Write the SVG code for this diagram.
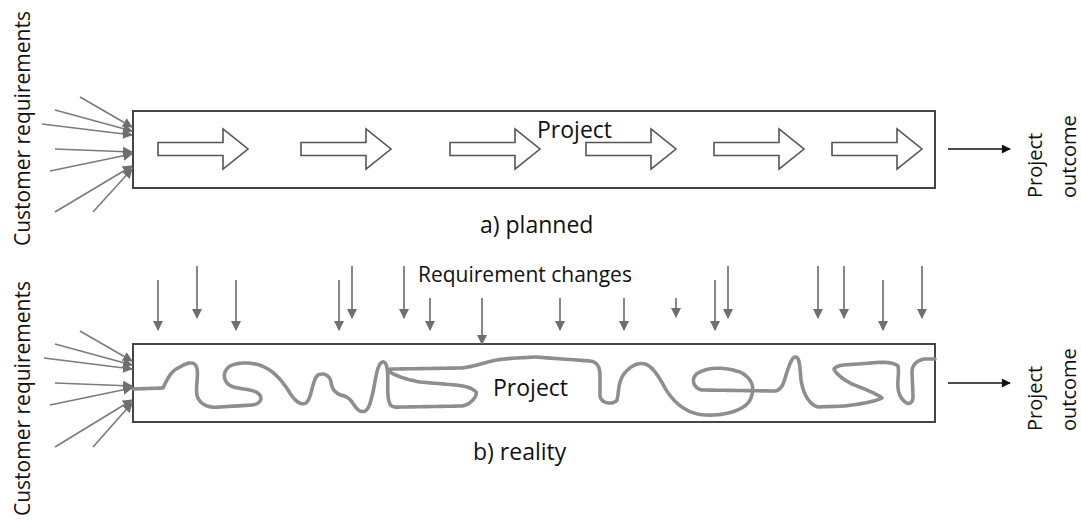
<svg xmlns="http://www.w3.org/2000/svg" width="1081" height="520" viewBox="0 0 1081 520">
  <style>
    .box { fill: #fff; stroke: #454545; stroke-width: 2; }
    .step { fill: #fff; stroke: #555; stroke-width: 1.6; stroke-linejoin: miter; }
    .req { stroke: #7b7b7b; stroke-width: 1.6; fill: none; marker-end: url(#gray-head); }
    .chg { stroke: #7b7b7b; stroke-width: 1.8; fill: none; marker-end: url(#gray-head); }
    .out { stroke: #111; stroke-width: 1.6; fill: none; marker-end: url(#black-head); }
    .wander { fill: none; stroke: #8e8e8e; stroke-width: 3.6; stroke-linecap: round; stroke-linejoin: round; stroke-dasharray: 3 0.8; }
    text { font-family: "Open Sans", "Noto Sans", "Liberation Sans", sans-serif; fill: #111; }
    .t-main { font-size: 23px; }
    .t-chg { font-size: 21px; }
    .t-side { font-size: 21px; }
    .t-out { font-size: 20px; }
  </style>
  <defs>
    <marker id="gray-head" viewBox="0 0 10 10" refX="9" refY="5" markerWidth="10" markerHeight="10" markerUnits="userSpaceOnUse" orient="auto">
      <path d="M0,0 L10,5 L0,10 Z" fill="#6f6f6f"/>
    </marker>
    <marker id="black-head" viewBox="0 0 10 10" refX="9" refY="5" markerWidth="10" markerHeight="9" markerUnits="userSpaceOnUse" orient="auto">
      <path d="M0,0 L10,5 L0,10 Z" fill="#111"/>
    </marker>
    <path id="step-arrow" class="step" d="M0,-6.5 H65 V-20 L90,0 L65,20 V6.5 H0 Z"/>
  </defs>

  <!-- a) planned -->
  <g id="planned-project">
    <rect class="box" x="133" y="111" width="802" height="77"/>
    <use href="#step-arrow" x="158" y="149"/>
    <use href="#step-arrow" x="301" y="149"/>
    <use href="#step-arrow" x="450" y="149"/>
    <use href="#step-arrow" x="586" y="149"/>
    <use href="#step-arrow" x="714" y="149"/>
    <use href="#step-arrow" x="832" y="149"/>
    <text class="t-main" x="537" y="138">Project</text>
  </g>
  <g id="planned-requirements">
    <text class="t-side" transform="translate(30,246) rotate(-90)">Customer requirements</text>
  </g>
  <g id="planned-outcome">
    <text class="t-out" transform="translate(1042,198) rotate(-90)">Project</text>
    <text class="t-out" transform="translate(1076,198) rotate(-90)">outcome</text>
  </g>
  <g id="planned-caption">
    <text class="t-main" x="480" y="233">a) planned</text>
  </g>

  <!-- b) reality -->
  <g id="reality-project">
    <rect class="box" x="133" y="344" width="802" height="78"/>
    <path class="wander" d="M133,389 L163,388 C167,380 170,372 178,368 C185,364 193,360 196,366 C200,373 194,390 198,398 C202,406 210,408 220,407 L252,405 C262,404 264,396 256,392 C248,388 236,390 228,384 C222,378 224,370 230,366 C238,362 252,362 262,366 C272,370 280,378 288,390 C294,400 300,406 306,403 C312,398 312,380 318,375 C324,372 330,376 331,382 C332,390 336,394 344,396 C352,398 354,408 360,411 C368,414 370,404 372,396 C375,385 376,370 380,364 C383,360 386,362 387,368 C389,380 386,396 390,404 C392,408 396,407 405,407 L462,406 C470,405 478,396 476,392 C472,388 466,386 455,385 L420,382 C408,380 396,376 390,372 C386,370 388,369 395,369 L460,368 C475,367 485,362 497,360 C510,358 520,358 535,357 L590,361 C598,362 600,368 600,376 L600,396 C601,404 614,405 617,400 C619,392 618,382 624,374 C630,366 638,362 645,364 C652,366 658,375 665,388 C672,400 685,414 705,415 C725,416 745,410 750,400 C756,388 752,378 740,372 C728,368 712,366 700,372 C690,376 692,388 702,390 L775,391 C782,390 784,382 786,375 C789,366 792,356 796,357 C800,358 800,370 801,380 C803,392 808,404 818,407 L845,406 C860,404 874,402 882,398 C878,394 862,388 852,384 C844,380 836,374 834,369 C838,364 848,365 858,364 C874,363 890,360 898,366 C900,376 894,390 903,400 C908,406 913,404 913,396 L912,372 C912,364 918,360 925,359 L935,359"/>
    <text class="t-main" x="493" y="396">Project</text>
  </g>
  <g id="reality-requirements">
    <text class="t-side" transform="translate(30,516) rotate(-90)">Customer requirements</text>
  </g>
  <g id="reality-changes">
    <text class="t-chg" x="418" y="282">Requirement changes</text>
  </g>
  <g id="reality-outcome">
    <text class="t-out" transform="translate(1042,431) rotate(-90)">Project</text>
    <text class="t-out" transform="translate(1076,431) rotate(-90)">outcome</text>
  </g>
  <g id="reality-caption">
    <text class="t-main" x="473" y="460">b) reality</text>
  </g>

  <!-- connectors -->
  <g id="connectors">
    <!-- customer requirements into the planned project -->
    <line class="req" x1="80" y1="97" x2="132" y2="127"/>
    <line class="req" x1="55" y1="110" x2="132" y2="131"/>
    <line class="req" x1="42" y1="124" x2="132" y2="135"/>
    <line class="req" x1="55" y1="149" x2="132" y2="152"/>
    <line class="req" x1="50" y1="171" x2="132" y2="154"/>
    <line class="req" x1="55" y1="212" x2="132" y2="166"/>
    <line class="req" x1="93" y1="212" x2="132" y2="169"/>
    <!-- customer requirements into the real project -->
    <line class="req" x1="80" y1="331" x2="132" y2="361"/>
    <line class="req" x1="55" y1="344" x2="132" y2="365"/>
    <line class="req" x1="44" y1="358" x2="132" y2="369"/>
    <line class="req" x1="55" y1="383" x2="132" y2="386"/>
    <line class="req" x1="50" y1="405" x2="132" y2="388"/>
    <line class="req" x1="55" y1="447" x2="132" y2="400"/>
    <line class="req" x1="93" y1="447" x2="132" y2="403"/>
    <!-- requirement changes -->
    <line class="chg" x1="158" y1="280" x2="158" y2="330"/>
    <line class="chg" x1="197" y1="266" x2="197" y2="318"/>
    <line class="chg" x1="236" y1="280" x2="236" y2="330"/>
    <line class="chg" x1="339" y1="280" x2="339" y2="330"/>
    <line class="chg" x1="352" y1="266" x2="352" y2="318"/>
    <line class="chg" x1="404" y1="266" x2="404" y2="318"/>
    <line class="chg" x1="430" y1="298" x2="430" y2="330"/>
    <line class="chg" x1="482" y1="298" x2="482" y2="344"/>
    <line class="chg" x1="560" y1="298" x2="560" y2="330"/>
    <line class="chg" x1="624" y1="298" x2="624" y2="330"/>
    <line class="chg" x1="676" y1="298" x2="676" y2="317"/>
    <line class="chg" x1="715" y1="280" x2="715" y2="330"/>
    <line class="chg" x1="728" y1="266" x2="728" y2="318"/>
    <line class="chg" x1="818" y1="266" x2="818" y2="318"/>
    <line class="chg" x1="844" y1="266" x2="844" y2="318"/>
    <line class="chg" x1="883" y1="280" x2="883" y2="330"/>
    <line class="chg" x1="922" y1="266" x2="922" y2="318"/>
    <!-- project outcomes -->
    <line class="out" x1="948" y1="149" x2="1010" y2="149"/>
    <line class="out" x1="948" y1="383" x2="1010" y2="383"/>
  </g>
</svg>
